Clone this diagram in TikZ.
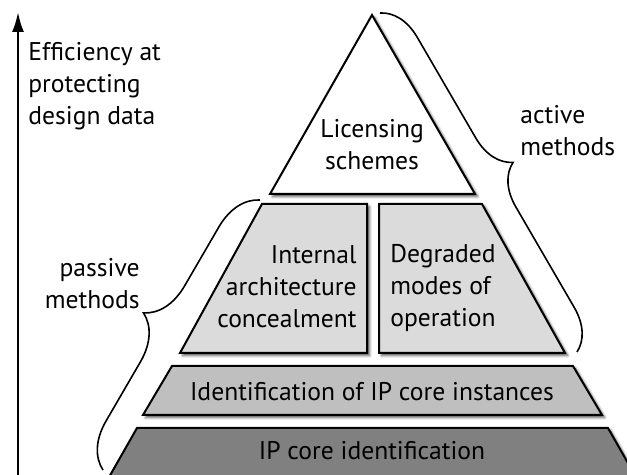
\documentclass[tikz,border=0pt]{standalone}
\usepackage{fontspec}
\setmainfont{PT Sans}
\usetikzlibrary{arrows.meta,decorations.pathreplacing,shadows.blur}

\begin{document}
\begin{tikzpicture}[x=0.5pt,y=-0.5pt,>={Latex[length=10pt,width=6pt]},
    layer/.style={draw,line width=1pt,blur shadow={shadow xshift=1.3pt,shadow yshift=-1.3pt,shadow blur radius=1.3pt,shadow opacity=70}},
    lbl/.style={inner sep=0pt,font=\fontsize{12.8}{16}\selectfont},
    brc/.style={decorate,decoration={brace,amplitude=#1},line width=0.8pt}]
    \useasboundingbox (0,0) rectangle (627,475);
    \clip (0,0) rectangle (627,475);
    % efficiency axis
    \coordinate (axbot) at (18,480);
    \coordinate (axtop) at (18,12);
    \draw[->,line width=1.2pt] (axbot) -- (axtop);
    \node[lbl,anchor=west,align=left] (eff) at (28,86) {Efficiency at\\protecting\\design data};
    % pyramid
    \filldraw[layer,fill=white] (372,15) -- (475,194) -- (270,194) -- cycle;
    \filldraw[layer,fill=black!14] (262,204) -- (367,204) -- (367,353) -- (180,353) -- cycle;
    \filldraw[layer,fill=black!14] (379,204) -- (482,204) -- (565,353) -- (379,353) -- cycle;
    \filldraw[layer,fill=black!25] (172,366) -- (573,366) -- (602,415) -- (143,415) -- cycle;
    \filldraw[layer,fill=black!50] (137,428) -- (608,428) -- (649,500) -- (96,500) -- cycle;
    \node[lbl,align=center] (lic) at (372,145) {Licensing\\schemes};
    \node[lbl,anchor=east,align=right] (iac) at (357,287) {Internal\\architecture\\concealment};
    \node[lbl,anchor=west,align=left] (deg) at (390,288) {Degraded\\modes of\\operation};
    \node[lbl] (ipi) at (372,392) {Identification of IP core instances};
    \node[lbl] (ipc) at (372,451) {IP core identification};
    % braces
    \coordinate (act1) at (380,13);
    \coordinate (act2) at (577,352);
    \coordinate (pas1) at (103,470);
    \coordinate (pas2) at (260,200);
    \draw[brc=20pt] (act1) -- (act2);
    \draw[brc=22pt] (pas1) -- (pas2);
    \node[lbl,anchor=west,align=left] (act) at (520,131) {active\\methods};
    \node[lbl,anchor=east,align=right] (pas) at (140,284) {passive\\methods};
\end{tikzpicture}
\end{document}
